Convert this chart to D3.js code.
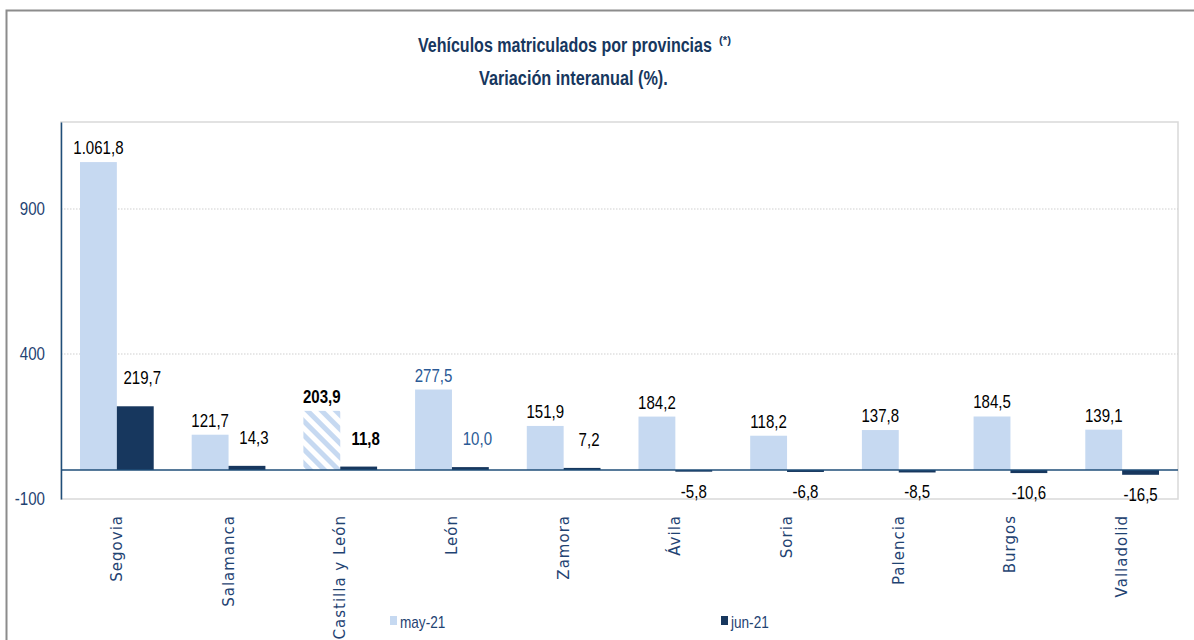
<!DOCTYPE html>
<html><head><meta charset="utf-8">
<script src="https://cdn.jsdelivr.net/npm/d3@7"></script>
<style>
html,body{margin:0;padding:0;background:#fff;}
svg{display:block;}
</style></head>
<body>
<svg id="c" width="1194" height="640"></svg>
<script>
const categories = ["Segovia","Salamanca","Castilla y León","León","Zamora","Ávila","Soria","Palencia","Burgos","Valladolid"];
const may21 = [1061.8,121.7,203.9,277.5,151.9,184.2,118.2,137.8,184.5,139.1];
const jun21 = [219.7,14.3,11.8,10.0,7.2,-5.8,-6.8,-8.5,-10.6,-16.5];
const seriesNames = ["may-21","jun-21"];
const yTicks = [-100,400,900];
const yDomain = [-100,1200];

const NAVY = "#17375e", LIGHT = "#c6d9f1", AXIS = "#1f4e79", TXT = "#1f4372";
const sans = "'Liberation Sans',Arial,sans-serif";

const svg = d3.select("#c");
const L = 61, R = 1178, T = 122, B = 499;

// outer frame
svg.append("path").attr("d","M6.5,640 V10.5 H1194").attr("fill","none").attr("stroke","#8c8c8c").attr("stroke-width",2);

// hatch pattern
const defs = svg.append("defs");
const pat = defs.append("pattern").attr("id","hatch").attr("patternUnits","userSpaceOnUse")
  .attr("width",10).attr("height",10).attr("patternTransform","rotate(-45)");
pat.append("rect").attr("width",10).attr("height",10).attr("fill","#fff");
pat.append("rect").attr("width",5).attr("height",10).attr("fill",LIGHT);

const x0 = d3.scaleBand().domain(categories).range([L,R]).paddingInner(0.34).paddingOuter(0.17);
const x1 = d3.scaleBand().domain(seriesNames).range([0,x0.bandwidth()]);
const y = d3.scaleLinear().domain(yDomain).range([B,T]);

// plot border
svg.append("rect").attr("x",L).attr("y",T).attr("width",R-L).attr("height",B-T)
  .attr("fill","none").attr("stroke","#d9d9d9").attr("stroke-width",1.5);

// gridlines
svg.append("g").selectAll("line").data(yTicks.filter(d=>d>yDomain[0])).join("line")
  .attr("x1",L).attr("x2",R).attr("y1",d=>y(d)).attr("y2",d=>y(d))
  .attr("stroke","#cfcfcf").attr("stroke-dasharray","1.5,1.5").attr("stroke-width",1);

// y axis
const yAxis = d3.axisLeft(y).tickValues(yTicks).tickSize(0).tickPadding(16).tickFormat(d=>String(d));
const ga = svg.append("g").attr("transform",`translate(${L},0)`).call(yAxis);
ga.select(".domain").attr("stroke",AXIS).attr("stroke-width",1.5);
ga.selectAll("text").attr("font-family",sans).attr("font-size",18).attr("fill",TXT)
  .attr("x",null).attr("dy",null).attr("dominant-baseline","central")
  .attr("transform","translate(-16,0) scale(0.84,1)");

const rows = categories.map((c,i)=>({cat:c, vals:[{s:"may-21",v:may21[i]},{s:"jun-21",v:jun21[i]}]}));

const g = svg.append("g").selectAll("g").data(rows).join("g")
  .attr("transform",d=>`translate(${x0(d.cat)},0)`);

g.selectAll("rect").data(d=>d.vals.map(v=>({...v,cat:d.cat}))).join("rect")
  .attr("x",d=>x1(d.s)).attr("width",x1.bandwidth())
  .attr("y",d=>y(Math.max(0,d.v))).attr("height",d=>Math.abs(y(d.v)-y(0)))
  .attr("fill",d=>d.s==="may-21" ? (d.cat==="Castilla y León" ? "url(#hatch)" : LIGHT) : NAVY);

// zero line
svg.append("line").attr("x1",L).attr("x2",R).attr("y1",y(0)).attr("y2",y(0))
  .attr("stroke",AXIS).attr("stroke-width",1.5);

const fmt = v => {
  const s = Math.abs(v).toFixed(1).replace(".",",");
  const [ip,dp] = s.split(",");
  const ii = ip.replace(/\B(?=(\d{3})+(?!\d))/g,".");
  return (v<0?"-":"")+ii+","+dp;
};

g.selectAll("text.lbl").data(d=>d.vals.map(v=>({...v,cat:d.cat}))).join("text")
  .attr("class","lbl")
  .attr("transform",d=>{
    const lx = x1(d.s)+x1.bandwidth()/2 + (d.s==="jun-21" && d.v>0 ? 7 : 0);
    const ly = d.v>=0 ? y(d.v)-8 - (d.s==="jun-21" ? 14 : 0) : y(d.v)+26;
    return `translate(${lx},${ly}) scale(0.86,1)`;
  })
  .attr("text-anchor","middle")
  .attr("font-family",sans).attr("font-size",17.5)
  .attr("font-weight",d=>d.cat==="Castilla y León"?"bold":"normal")
  .attr("fill",d=>d.cat==="León" ? "#2a5a96" : "#000")
  .text(d=>fmt(d.v));

// category labels
svg.append("g").selectAll("text").data(categories).join("text")
  .attr("transform",d=>`translate(${x0(d)+x0.bandwidth()/2+5},515) rotate(-90)`)
  .attr("text-anchor","end")
  .attr("font-family","'DejaVu Sans',Verdana,sans-serif").attr("font-size",15)
  .attr("letter-spacing","1px")
  .attr("fill",TXT)
  .text(d=>d);

// title (scaled horizontally to mimic a condensed face)
const title = svg.append("g").attr("font-family",sans).attr("font-weight","bold").attr("fill",NAVY);
function fitText(txt, x, yy, size, width){
  const t = title.append("text").attr("font-size",size).text(txt);
  const w = t.node().getComputedTextLength();
  t.attr("transform",`translate(${x},${yy}) scale(${width/w},1)`);
  return t;
}
fitText("Vehículos matriculados por provincias", 418, 52, 19.5, 294);
fitText("(*)", 719, 44, 11.5, 12);
fitText("Variación interanual (%).", 479, 85, 19.5, 189);

// legend
const legX = [390,721];
const lg = svg.append("g").selectAll("g").data(seriesNames).join("g")
  .attr("transform",(d,i)=>`translate(${legX[i]},0)`);
lg.append("rect").attr("x",0).attr("y",616).attr("width",7).attr("height",9)
  .attr("fill",(d,i)=>i===0?LIGHT:NAVY);
lg.append("text").attr("transform","translate(10,628) scale(0.85,1)").attr("font-family",sans).attr("font-size",16)
  .attr("fill",TXT).text(d=>d);
</script>
</body></html>
